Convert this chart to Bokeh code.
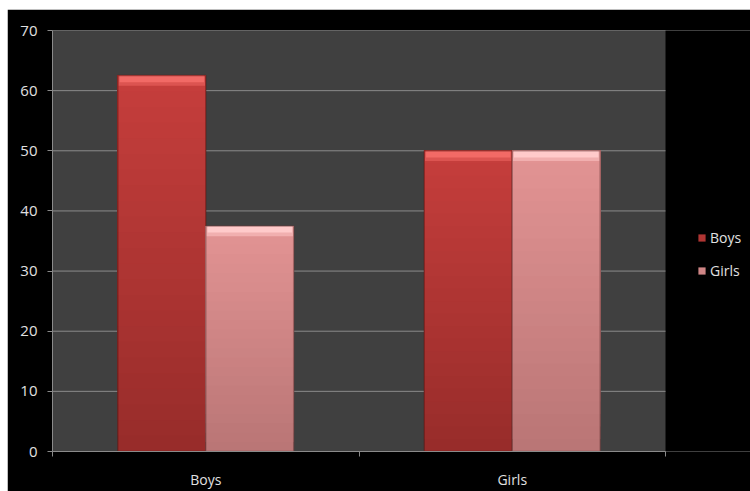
from bokeh.plotting import figure
from bokeh.models import FixedTicker, Legend, LegendItem, ColumnDataSource
from bokeh.embed import file_html
from bokeh.resources import INLINE

categories = ["Boys", "Girls"]
boys = [62.5, 50.0]
girls = [37.5, 50.0]
y_ticks = [0, 10, 20, 30, 40, 50, 60, 70]

FONT = "Open Sans"

W, H = 743, 482
LEFT, RIGHT_PAD, TOP, BOTTOM = 45, 85, 21, 38
plot_w = W - LEFT - RIGHT_PAD          # width of the grey plot area in px
frame_w = W - LEFT                      # frame extends under the legend
n_cat = len(categories)
y_max = y_ticks[-1]

p = figure(width=W, height=H, x_range=(0, n_cat * frame_w / plot_w), y_range=(0, y_max),
           output_backend="svg", toolbar_location=None,
           min_border_left=LEFT, min_border_right=0, min_border_top=TOP, min_border_bottom=BOTTOM)
p.margin = (9, 0, 0, 7)
p.background_fill_color = "#000000"
p.border_fill_color = "#000000"
p.outline_line_color = None
p.xgrid.grid_line_color = None
p.ygrid.grid_line_color = None

# grey plot area and grid lines
p.quad(left=0, right=n_cat, bottom=0, top=y_max, fill_color="#404040", line_color=None)
p.segment(x0=[0] * len(y_ticks), x1=[n_cat] * len(y_ticks), y0=y_ticks, y1=y_ticks,
          line_color="#8a8a8a", line_width=1)

# y axis
p.yaxis.ticker = FixedTicker(ticks=y_ticks)
p.yaxis.axis_line_color = "#8a8a8a"
p.yaxis.major_tick_line_color = "#8a8a8a"
p.yaxis.major_tick_out = 5
p.yaxis.major_tick_in = 0
p.yaxis.minor_tick_line_color = None
p.yaxis.major_label_text_color = "#e0e0e0"
p.yaxis.major_label_text_font = FONT
p.yaxis.major_label_text_font_size = "15px"
p.yaxis.major_label_standoff = 10

# x axis (labels at category centers, ticks at category boundaries)
centers = [i + 0.5 for i in range(n_cat)]
bounds = list(range(n_cat + 1))
p.xaxis.bounds = (0, n_cat)
p.xaxis.ticker = FixedTicker(ticks=centers, minor_ticks=bounds)
p.xaxis.major_label_overrides = {c: lab for c, lab in zip(centers, categories)}
p.xaxis.axis_line_color = "#8a8a8a"
p.xaxis.major_tick_line_color = None
p.xaxis.major_tick_out = 0
p.xaxis.major_tick_in = 0
p.xaxis.minor_tick_line_color = "#8a8a8a"
p.xaxis.minor_tick_out = 5
p.xaxis.minor_tick_in = 0
p.xaxis.major_label_text_color = "#e0e0e0"
p.xaxis.major_label_text_font = FONT
p.xaxis.major_label_text_font_size = "14px"
p.xaxis.major_label_standoff = 13

BAR_W = 0.287
OFF = 0.1435


def hex2rgb(h):
    h = h.lstrip("#")
    return tuple(int(h[i:i + 2], 16) for i in (0, 2, 4))


def mix(c1, c2, t):
    a, b = hex2rgb(c1), hex2rgb(c2)
    return "#%02x%02x%02x" % tuple(round(a[k] + (b[k] - a[k]) * t) for k in range(3))


def draw_series(values, xoff, top_col, bot_col, hi_col, edge_col):
    xs = [c + xoff for c in centers]
    N = 24
    mid = None
    for i in range(N):
        f0 = i / N
        col = mix(bot_col, top_col, (i + 0.5) / N)
        src = ColumnDataSource(dict(x=xs, bottom=[v * f0 for v in values], top=values))
        r = p.vbar(x="x", bottom="bottom", top="top", width=BAR_W, source=src,
                   fill_color=col, line_color=None)
        if i == N // 2:
            mid = r
    # top bevel highlight
    src_hi2 = ColumnDataSource(dict(x=xs, top=values, bottom=[v - 1.7 for v in values]))
    p.vbar(x="x", bottom="bottom", top="top", width=BAR_W * 0.985, source=src_hi2,
           fill_color=mix(hi_col, top_col, 0.5), line_color=None)
    src_hi = ColumnDataSource(dict(x=xs, top=values, bottom=[v - 1.1 for v in values]))
    p.vbar(x="x", bottom="bottom", top="top", width=BAR_W * 0.96, source=src_hi,
           fill_color=hi_col, line_color=None)
    # edge
    src_e = ColumnDataSource(dict(x=xs, top=values))
    p.vbar(x="x", top="top", bottom=0, width=BAR_W, source=src_e,
           fill_color=None, line_color=edge_col, line_alpha=0.5, line_width=1.5)
    return mid


r_boys = draw_series(boys, -OFF, "#c63e3c", "#972c2a", "#f26a66", "#5a1512")
r_girls = draw_series(girls, OFF, "#e39494", "#b97575", "#ffcaca", "#6a3a3a")

legend = Legend(items=[LegendItem(label="Boys", renderers=[r_boys]),
                       LegendItem(label="Girls", renderers=[r_girls])],
                location=(plot_w + 32, 171))
legend.background_fill_alpha = 0
legend.border_line_alpha = 0
legend.padding = 0
legend.margin = 0
legend.glyph_width = 9
legend.glyph_height = 9
legend.label_standoff = 4
legend.label_height = 20
legend.spacing = 13
legend.label_text_color = "#e0e0e0"
legend.label_text_font = FONT
legend.label_text_font_size = "14px"
p.add_layout(legend)

open("out.html", "w").write(file_html(p, INLINE))
